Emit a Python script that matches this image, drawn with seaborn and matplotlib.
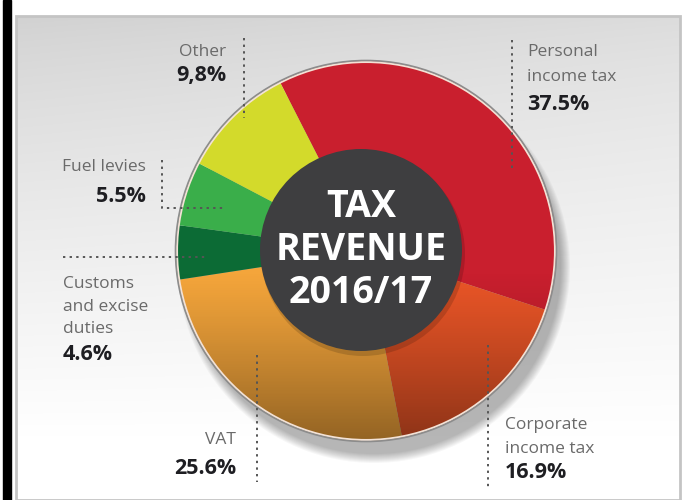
import numpy as np
import matplotlib
matplotlib.use("Agg")
import matplotlib.pyplot as plt
import seaborn as sns
from matplotlib.patches import Circle, Rectangle

# data
categories = ["Personal income tax", "Corporate income tax", "VAT",
              "Customs and excise duties", "Fuel levies", "Other"]
shares = [37.5, 16.9, 25.6, 4.6, 5.5, 9.8]
pct_labels = ["37.5%", "16.9%", "25.6%", "4.6%", "5.5%", "9,8%"]
slice_colors = ["#C91F2E", "#EA5527", "#F4A53B", "#0C6B35", "#3AAE4A", "#D3DA2B"]
title_lines = ["TAX", "REVENUE", "2016/17"]

sns.set_theme(style="white")
plt.rcParams["font.family"] = ["Open Sans", "DejaVu Sans"]

W, H = 682, 500


def Y(py):
    # pixel row (from top) -> data y
    return H - py


fig = plt.figure(figsize=(6.82, 5.0), dpi=100)
ax = fig.add_axes([0, 0, 1, 1])
ax.set_xlim(0, W)
ax.set_ylim(0, H)
ax.set_aspect("equal")
ax.axis("off")

# background panel gradient
yy, xx = np.mgrid[0:484, 0:664]
shade = 0.82 + 0.18 * np.clip(yy / 420.0, 0, 1) ** 0.8
shade += 0.04 * np.clip(xx / 664.0, 0, 1) * (1 - np.clip(yy / 420.0, 0, 1))
shade = np.clip(shade, 0, 1)
ax.imshow(np.dstack([shade] * 3), extent=(16, 680, 0, Y(16)), origin="upper", zorder=0)
ax.add_patch(Rectangle((16, 0), 664, Y(16), fill=False, edgecolor="#c4c4c4", lw=2, zorder=1))
ax.add_patch(Rectangle((3, 0), 8, H, color="black", zorder=1))

cx, cy, r = 366, Y(251), 190

# soft shadow under the wheel (mostly below it)
for i in range(10):
    ax.add_patch(Circle((cx + 8, cy - 16), r + 6 - i, color="black", alpha=0.03, lw=0, zorder=2))

wedges, _ = ax.pie(shares, colors=slice_colors, startangle=117, counterclock=False,
                   radius=r, center=(cx, cy), frame=True,
                   wedgeprops=dict(linewidth=0))
for w in wedges:
    w.set_zorder(3)
ax.set_xlim(0, W)
ax.set_ylim(0, H)
ax.axis("off")

# darken the lower part of the wheel
grad = np.linspace(0, 1, 200)[:, None] * np.ones((1, 10))
alpha = np.clip((grad - 0.55) / 0.45, 0, 1) ** 1.2 * 0.4
shadow_img = np.zeros((200, 10, 4))
shadow_img[..., 3] = alpha
im = ax.imshow(shadow_img, extent=(cx - r, cx + r, cy - r, cy + r), origin="upper", zorder=4)
im.set_clip_path(Circle((cx, cy), r, transform=ax.transData))

ax.add_patch(Circle((cx, cy), r - 1, fill=False, edgecolor="#f3e2d6", lw=1.5, zorder=5))
ax.add_patch(Circle((cx, cy), r + 0.5, fill=False, edgecolor="#8c8c8c", lw=1.2, zorder=5))

# dark centre
ax.add_patch(Circle((cx - 3, cy - 3), 102, color="black", alpha=0.15, lw=0, zorder=6))
ax.add_patch(Circle((cx - 5, cy + 1), 101, color="#3E3E40", lw=0, zorder=7))
for txt, py in zip(title_lines, [207, 250, 293]):
    ax.text(cx - 5, Y(py), txt, ha="center", va="center", color="white",
            fontsize=27, fontweight="bold", zorder=8)

# leader lines
dot = dict(color="#555555", lw=1.4, linestyle=(0, (1.2, 2.2)), zorder=9)
ax.plot([244, 244], [Y(38), Y(118)], **dot)
ax.plot([512, 512], [Y(40), Y(170)], **dot)
ax.plot([162, 162, 225], [Y(160), Y(208), Y(208)], **dot)
ax.plot([63, 205], [Y(257), Y(257)], **dot)
ax.plot([257, 257], [Y(355), Y(482)], **dot)
ax.plot([488, 488], [Y(345), Y(487)], **dot)

name_style = dict(color="#6a6a6a", fontsize=12.5, va="center", zorder=9)
pct_style = dict(color="#1e1e22", fontsize=15.5, fontweight="bold", va="center", zorder=9)

# label text: (name lines, x, anchor, line rows, pct row)
label_specs = {
    "Personal income tax": (["Personal", "income tax"], 527, "left", [52, 77], 104),
    "Corporate income tax": (["Corporate", "income tax"], 505, "left", [425, 449], 473),
    "VAT": (["VAT"], 236, "right", [440], 468),
    "Customs and excise duties": (["Customs", "and excise", "duties"], 63, "left", [284, 307, 329], 354),
    "Fuel levies": (["Fuel levies"], 146, "right", [167], 196),
    "Other": (["Other"], 226, "right", [52], 76),
}
for cat, pct in zip(categories, pct_labels):
    lines, x, ha, rows, prow = label_specs[cat]
    for line, py in zip(lines, rows):
        ax.text(x, Y(py), line, ha=ha, **name_style)
    ax.text(x, Y(prow), pct, ha=ha, **pct_style)

fig.savefig("out.png", dpi=100)
